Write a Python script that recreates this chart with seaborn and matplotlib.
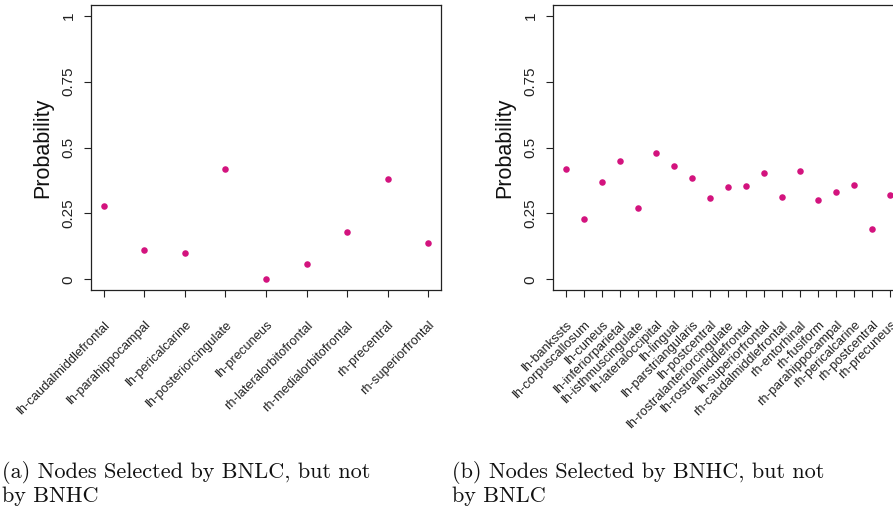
import matplotlib
matplotlib.use("Agg")
import matplotlib.pyplot as plt
import seaborn as sns
import pandas as pd

# panel (a): nodes selected by BNLC, but not by BNHC
nodes_a = ["lh-caudalmiddlefrontal", "lh-parahippocampal", "lh-pericalcarine",
           "lh-posteriorcingulate", "lh-precuneus", "rh-lateralorbitofrontal",
           "rh-medialorbitofrontal", "rh-precentral", "rh-superiorfrontal"]
prob_a = [0.28, 0.11, 0.10, 0.42, 0.00, 0.06, 0.18, 0.38, 0.14]

# panel (b): nodes selected by BNHC, but not by BNLC
nodes_b = ["lh-bankssts", "lh-corpuscallosum", "lh-cuneus", "lh-inferiorparietal",
           "lh-isthmuscingulate", "lh-lateraloccipital", "lh-lingual",
           "lh-parstriangularis", "lh-postcentral", "lh-rostralanteriorcingulate",
           "lh-rostralmiddlefrontal", "lh-superiorfrontal", "rh-caudalmiddlefrontal",
           "rh-entorhinal", "rh-fusiform", "rh-parahippocampal", "rh-pericalcarine",
           "rh-postcentral", "rh-precuneus"]
prob_b = [0.42, 0.23, 0.37, 0.45, 0.27, 0.48, 0.43, 0.385, 0.307, 0.352,
          0.355, 0.405, 0.313, 0.41, 0.302, 0.333, 0.358, 0.19, 0.32]

y_ticks = [0, 0.25, 0.5, 0.75, 1]
y_tick_labels = ["0", "0.25", "0.5", "0.75", "1"]
captions = ["(a) Nodes Selected by BNLC, but not\nby BNHC",
            "(b) Nodes Selected by BNHC, but not\nby BNLC"]

sns.set_theme(style="ticks")
plt.rcParams["font.family"] = ["Liberation Sans", "DejaVu Sans"]

W, H = 893, 512
fig = plt.figure(figsize=(W / 100, H / 100), dpi=100)

# axes boxes in pixel units: left, top, width, height
boxes = [(91, 5, 350, 285), (553, 5, 350, 285)]
panels = [(nodes_a, prob_a), (nodes_b, prob_b)]
dot_color = "#D3137E"

for (left, top, w, h), (nodes, probs), cap, cap_x in zip(boxes, panels, captions, [2, 452]):
    ax = fig.add_axes([left / W, 1 - (top + h) / H, w / W, h / H])
    df = pd.DataFrame({"node": nodes, "prob": probs})
    sns.stripplot(data=df, x="node", y="prob", jitter=False, color=dot_color,
                  size=4.7, linewidth=0, ax=ax)
    n = len(nodes)
    ext = 0.04 * (n - 1)
    ax.set_xlim(-ext, n - 1 + ext)
    ax.set_ylim(-0.04, 1.04)

    ax.set_yticks(y_ticks)
    ax.set_yticklabels(y_tick_labels, rotation=90, va="center", fontsize=11, color="#222222")
    ax.set_xticks(range(n))
    ax.set_xticklabels(nodes, rotation=45, ha="right", rotation_mode="anchor",
                       fontsize=9.3, color="#222222")
    ax.tick_params(axis="y", length=5, width=0.8, pad=6, color="#222222")
    ax.tick_params(axis="x", length=5, width=0.8, pad=16, color="#222222")

    for s in ax.spines.values():
        s.set_visible(True)
        s.set_linewidth(0.9)
        s.set_color("#222222")

    ax.set_xlabel("")
    ax.set_ylabel("Probability", fontsize=15.5, color="#111111")
    ax.yaxis.label.set_va("center")
    ax.yaxis.set_label_coords(-0.137, 0.5)

    fig.text(cap_x / W, 1 - 461 / H, cap, family="cmr10", fontsize=16,
             ha="left", va="top", linespacing=1.15, color="#111111")

fig.savefig("out.png", dpi=100)
